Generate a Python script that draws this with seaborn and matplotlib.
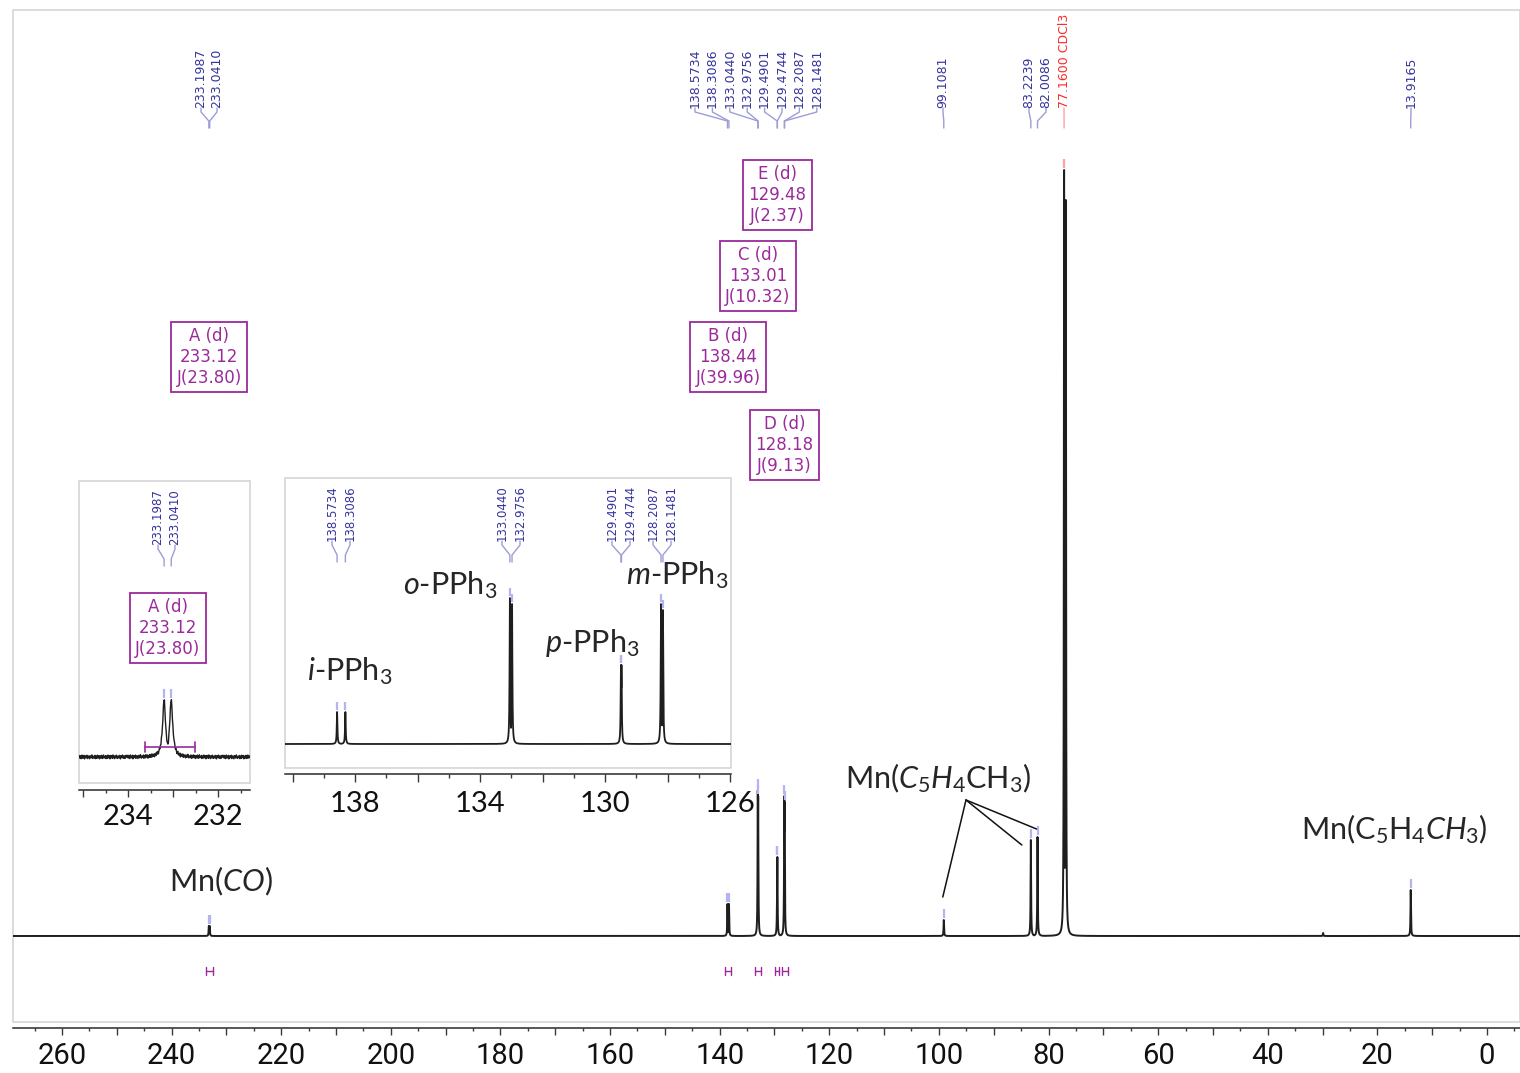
import numpy as np
import pandas as pd
import matplotlib
matplotlib.use("Agg")
import matplotlib.pyplot as plt
from matplotlib.patches import Rectangle
import seaborn as sns

# ---------------------------------------------------------------- data
# 13C{1H} NMR peak list: chemical shift (ppm) and apparent height
peak_ppm = [233.1987, 233.0410, 138.5734, 138.3086, 133.0440, 132.9756,
            129.4901, 129.4744, 128.2087, 128.1481, 99.1081, 83.2239,
            82.0086, 77.1600, 13.9165]
peak_height = [10, 10, 32, 32, 146, 140, 79, 79, 140, 134, 16, 96, 99, 766, 46]
peak_text = ["233.1987", "233.0410", "138.5734", "138.3086", "133.0440",
             "132.9756", "129.4901", "129.4744", "128.2087", "128.1481",
             "99.1081", "83.2239", "82.0086", "77.1600 CDCl3", "13.9165"]
solvent_flag = [False] * 13 + [True, False]

# unlabelled lines (solvent triplet partner, trace impurity)
extra_ppm = [76.84, 29.9]
extra_height = [736, 3]

# multiplet reports
mult_name = ["A", "B", "C", "D", "E"]
mult_shift = [233.12, 138.44, 133.01, 128.18, 129.48]
mult_J = [23.80, 39.96, 10.32, 9.13, 2.37]
integral_from = [233.63, 138.95, 133.50, 128.65, 129.85]
integral_to = [232.51, 137.95, 132.50, 127.60, 129.10]

# axis tick labels
main_tick_labels = [260, 240, 220, 200, 180, 160, 140, 120, 100, 80, 60, 40, 20, 0]
zoom1_tick_labels = [234, 232]
zoom2_tick_labels = [138, 134, 130, 126]

# baseline noise of the expanded carbonyl region
zoom1_noise = [0.12, -0.18, 0.25, -0.05, -0.30, 0.15, 0.33, -0.22, 0.04, -0.12,
               0.28, -0.35, 0.10, 0.20, -0.15, -0.02, 0.30, -0.28, 0.08, 0.18,
               -0.10, -0.32, 0.22, 0.05, -0.20, 0.14, 0.36, -0.08, -0.26, 0.11,
               0.02, -0.16, 0.27, -0.30, 0.19, 0.07, -0.24, 0.31, -0.04, -0.14,
               0.23, -0.33, 0.09, 0.16, -0.21, 0.29, -0.06, -0.27, 0.13, 0.34,
               -0.19, 0.01, -0.11, 0.24, -0.29, 0.17, 0.06, -0.23, 0.32, -0.09,
               -0.17, 0.21, -0.34, 0.03, 0.26, -0.13, 0.15, -0.25, 0.35, -0.07,
               0.10, -0.31, 0.20, 0.04, -0.18, 0.30, -0.12, -0.26, 0.14, 0.08,
               -0.20, 0.27, -0.03, -0.35, 0.22, 0.12, -0.16, 0.33, -0.09, -0.24,
               0.18, 0.00, -0.28, 0.25, -0.10, 0.06, 0.30]

# ---------------------------------------------------------------- style
sns.set_theme(style="white")
plt.rcParams["font.family"] = ["Lato", "DejaVu Sans"]
plt.rcParams["mathtext.fontset"] = "custom"
plt.rcParams["mathtext.rm"] = "Lato"
plt.rcParams["mathtext.it"] = "Lato:italic"
plt.rcParams["mathtext.bf"] = "Lato:bold"

LINE = "#1e1e1e"
FRAME = "#d2d2d2"
LABEL_BLUE = "#34349c"
CONNECT = "#9d9dd6"
MARK = "#b4b4f0"
SOLVENT = "#ff2a2a"
SOLVENT_LIGHT = "#ffa0a0"
PURPLE = "#9b2a9b"

W, H = 1520, 1073
fig = plt.figure(figsize=(W / 100, H / 100), dpi=100)


def px_box(x0, y0, x1, y1):
    return [x0 / W, 1 - y1 / H, (x1 - x0) / W, (y1 - y0) / H]


ax = fig.add_axes(px_box(13, 10, 1520, 1022))
ins1 = fig.add_axes(px_box(79, 481, 250, 783))
ins2 = fig.add_axes(px_box(285, 478, 731, 768))
ov = fig.add_axes([0, 0, 1, 1])
ov.set_xlim(0, W)
ov.set_ylim(H, 0)
ov.axis("off")


def line_shape(grid, centers, heights, hwhm):
    y = np.zeros_like(grid)
    for c, h in zip(centers, heights):
        y = np.maximum(y, h * hwhm ** 2 / ((grid - c) ** 2 + hwhm ** 2))
    return y


def make_grid(lo, hi, step, centers):
    g = np.arange(hi, lo, -step)
    inside = [c for c in centers if lo <= c <= hi]
    return np.sort(np.concatenate([g, inside]))[::-1]


def style_axes(a, out_px, xlim, ylim, majors, major_labels, minors,
               label_font, label_size, label_pad, major_len, minor_len):
    a.set_xlim(*xlim)
    a.set_ylim(*ylim)
    for s in ["top", "left", "right"]:
        a.spines[s].set_visible(False)
    a.spines["bottom"].set_position(("outward", out_px * 0.72))
    a.spines["bottom"].set_color("#2a2a2a")
    a.spines["bottom"].set_linewidth(1.1)
    a.add_patch(Rectangle((0, 0), 1, 1, transform=a.transAxes, fill=False,
                          ec=FRAME, lw=1.1, clip_on=False, zorder=0))
    a.set_yticks([])
    a.set_xlabel("")
    a.set_ylabel("")
    a.set_xticks(majors, major_labels)
    a.set_xticks(minors, minor=True)
    a.tick_params(axis="x", which="both", bottom=True, direction="out",
                  color="#3a3a3a", width=1.0)
    a.tick_params(axis="x", which="major", length=major_len, pad=label_pad,
                  labelsize=label_size, labelcolor="#111111",
                  labelfontfamily=label_font)
    a.tick_params(axis="x", which="minor", length=minor_len)


def tick_set(lo, hi, step, labels):
    vals = np.arange(lo, hi + step / 2, step)
    texts = [str(int(round(v))) if int(round(v)) in labels and abs(v - round(v)) < 1e-6 else "" for v in vals]
    return list(vals), texts


# ---------------------------------------------------------------- main spectrum
all_ppm = peak_ppm + extra_ppm
all_height = peak_height + extra_height
g_main = make_grid(-6.02, 268.93, 0.01, all_ppm)
df_main = pd.DataFrame({"ppm": g_main,
                        "intensity": line_shape(g_main, all_ppm, all_height, 0.05)})
sns.lineplot(data=df_main, x="ppm", y="intensity", ax=ax, color=LINE, lw=1.4,
             sort=False, estimator=None)
maj, maj_lab = tick_set(0, 260, 10, main_tick_labels)
style_axes(ax, 6, (268.93, -6.02), (-86, 926), maj, maj_lab,
           list(np.arange(-5, 270, 10)),
           ["Roboto", "DejaVu Sans"], 21, 5, 5, 2.5)

# peak-top markers
for p, h, solv in zip(peak_ppm, peak_height, solvent_flag):
    ax.plot([p, p], [h + 2, h + 11], color=SOLVENT_LIGHT if solv else MARK,
            lw=1.6, solid_capstyle="butt")

# ---------------------------------------------------------------- expansion 1 (carbonyl)
z1_lo, z1_hi = 231.29, 235.09
z1_scale = 5.7
z1_ppm = [p for p in peak_ppm if z1_lo < p < z1_hi]
z1_h = [h for p, h in zip(peak_ppm, peak_height) if z1_lo < p < z1_hi]
g1 = make_grid(z1_lo, z1_hi, 0.0111, z1_ppm)
y1 = line_shape(g1, z1_ppm, z1_h, 0.04) + np.resize(np.array(zoom1_noise), g1.size)
sns.lineplot(x=g1, y=y1, ax=ins1, color=LINE, lw=1.0, sort=False, estimator=None)
maj1, lab1 = tick_set(232, 235, 1, zoom1_tick_labels)
style_axes(ins1, 7, (z1_hi, z1_lo), (-26 / z1_scale, 276 / z1_scale), maj1, lab1,
           [231.5, 232.5, 233.5, 234.5], ["Lato", "DejaVu Sans"], 21, 5, 5, 2.5)
ins1.set_facecolor("white")
for p, h in zip(z1_ppm, z1_h):
    ins1.plot([p, p], [h + 0.3, h + 2.0], color=MARK, lw=1.6, solid_capstyle="butt")

# ---------------------------------------------------------------- expansion 2 (PPh3)
z2_lo, z2_hi = 125.97, 140.24
z2_ppm = [p for p in peak_ppm if z2_lo < p < z2_hi]
z2_h = [h for p, h in zip(peak_ppm, peak_height) if z2_lo < p < z2_hi]
g2 = make_grid(z2_lo, z2_hi, 0.002, z2_ppm)
sns.lineplot(x=g2, y=line_shape(g2, z2_ppm, z2_h, 0.012), ax=ins2, color=LINE,
             lw=1.3, sort=False, estimator=None)
maj2, lab2 = tick_set(126, 140, 2, zoom2_tick_labels)
style_axes(ins2, 6, (z2_hi, z2_lo), (-24, 266), maj2, lab2,
           list(np.arange(127, 140, 2)), ["Lato", "DejaVu Sans"], 21, 6, 6, 3)
ins2.set_facecolor("white")
for p, h in zip(z2_ppm, z2_h):
    ins2.plot([p, p], [h + 2, h + 10], color=MARK, lw=1.6, solid_capstyle="butt")


# ---------------------------------------------------------------- overlay helpers
def to_px(a, p, v=0.0):
    return ov.transData.inverted().transform(a.transData.transform((p, v)))


def label_tree(a, xs, ppms, texts, solv, y_text, y_a, y_b, y_c, size):
    for lx, p, t, s in zip(xs, ppms, texts, solv):
        px = to_px(a, p)[0]
        ov.text(lx, y_text, t, rotation=90, ha="center", va="bottom",
                fontsize=size, color=SOLVENT if s else LABEL_BLUE,
                family=["DejaVu Sans"])
        ov.plot([lx, lx, px, px], [y_text, y_a, y_b, y_c],
                color=SOLVENT_LIGHT if s else CONNECT, lw=1.0)


# peak labels across the top
top_x = [201, 217, 695, 712.4, 729.8, 747.2, 764.6, 782, 799.4, 816.8,
         943, 1029, 1046, 1064, 1411]
label_tree(ax, top_x, peak_ppm, peak_text, solvent_flag, 108, 112, 121, 128, 9)

# peak labels in the expansions
z1_text = [t for p, t in zip(peak_ppm, peak_text) if z1_lo < p < z1_hi]
label_tree(ins1, [158, 175], z1_ppm, z1_text, [False] * 2, 545, 549, 559, 566, 8.5)
z2_text = [t for p, t in zip(peak_ppm, peak_text) if z2_lo < p < z2_hi]
label_tree(ins2, [332, 350, 502, 520, 612, 630, 653, 671], z2_ppm, z2_text,
           [False] * 8, 541, 545, 555, 562, 8.5)

# multiplet report boxes
box_y = {"A": 357, "B": 357, "C": 276, "D": 445, "E": 195}
box_kw = dict(ha="center", va="center", fontsize=12, color=PURPLE,
              linespacing=1.22, family=["DejaVu Sans"],
              bbox=dict(boxstyle="square,pad=0.32", fc="white", ec=PURPLE, lw=1.3))
for n, s, j in zip(mult_name, mult_shift, mult_J):
    report = f"{n} (d)\n{s:.2f}\nJ({j:.2f})"
    ov.text(to_px(ax, s)[0], box_y[n], report, **box_kw)
    if n == "A":
        ov.text(to_px(ins1, s)[0], 628, report, **box_kw)

# integral brackets
for a_from, a_to in zip(integral_from, integral_to):
    x0, x1 = to_px(ax, a_from)[0], to_px(ax, a_to)[0]
    ov.plot([x0, x1], [971, 971], color=PURPLE, lw=1.0)
    ov.plot([x0, x0], [967, 975], color=PURPLE, lw=1.0)
    ov.plot([x1, x1], [967, 975], color=PURPLE, lw=1.0)
x0, x1 = to_px(ins1, integral_from[0])[0], to_px(ins1, integral_to[0])[0]
ov.plot([x0, x1], [747, 747], color=PURPLE, lw=1.2)
ov.plot([x0, x0], [742, 752], color=PURPLE, lw=1.2)
ov.plot([x1, x1], [742, 752], color=PURPLE, lw=1.2)

# assignments
ANN = 22
ov.text(221, 881, r"Mn($\mathit{CO}$)", ha="center", va="center", fontsize=ANN)
ov.text(938, 778, r"Mn($\mathit{C}_5\mathit{H}_4$CH$_3$)", ha="center",
        va="center", fontsize=ANN)
ov.text(1394, 829, r"Mn(C$_5$H$_4$$\mathit{CH}_3$)", ha="center",
        va="center", fontsize=ANN)
ov.text(350, 671, r"$\mathit{i}$-PPh$_3$", ha="center", va="center", fontsize=ANN)
ov.text(450, 585, r"$\mathit{o}$-PPh$_3$", ha="center", va="center", fontsize=ANN)
ov.text(592, 643, r"$\mathit{p}$-PPh$_3$", ha="center", va="center", fontsize=ANN)
ov.text(677, 575, r"$\mathit{m}$-PPh$_3$", ha="center", va="center", fontsize=ANN)

# pointer lines to the cyclopentadienyl carbons
for p, yend in zip([99.1081, 83.2239, 82.0086], [897, 845, 829]):
    xe = to_px(ax, p)[0] - (1 if p > 90 else 9 if p > 83 else 1)
    ov.plot([966, xe], [800, yend], color="#111111", lw=1.1)

fig.savefig("out.png", dpi=100)
